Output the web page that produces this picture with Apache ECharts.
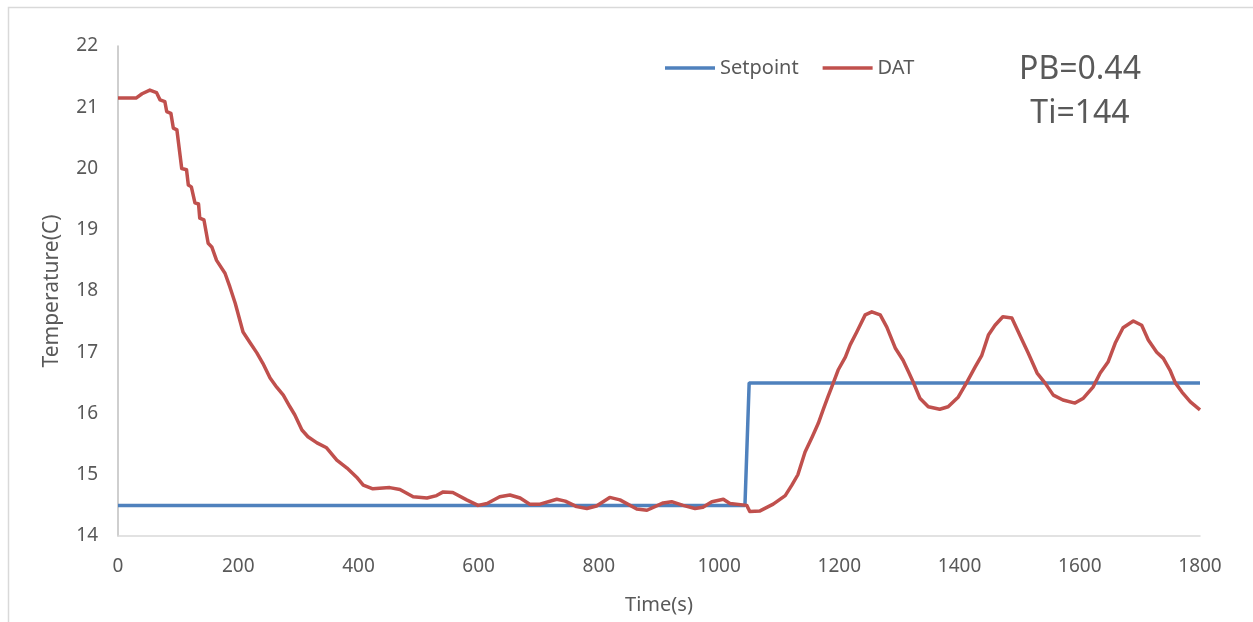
<!DOCTYPE html>
<html>
<head>
<meta charset="utf-8">
<script src="https://cdn.jsdelivr.net/npm/echarts@6/dist/echarts.min.js"></script>
<style>
  html, body { margin: 0; padding: 0; background: #ffffff; }
  #chart { width: 1253px; height: 622px; }
</style>
</head>
<body>
<div id="chart"></div>
<script>
// Time axis ticks (s) and temperature ticks (C)
const xTicks = [0, 200, 400, 600, 800, 1000, 1200, 1400, 1600, 1800];
const yTicks = [14, 15, 16, 17, 18, 19, 20, 21, 22];

// Setpoint: 14.5 C, stepped up to 16.5 C around t = 1045 s
const setpointTime = [0, 1043, 1050, 1800];
const setpointTemp = [14.5, 14.5, 16.5, 16.5];

// Discharge air temperature (DAT) samples
const datTime = [
  0, 30, 40, 53, 64, 70, 78, 81, 88, 92, 98, 106, 114, 117, 122, 128, 134, 136, 143, 150, 156,
  164, 178, 186, 195, 208, 220, 231, 241, 253, 264, 275, 286, 294, 306, 316, 331, 347, 364, 381,
  397, 408, 424, 452, 469, 491, 514, 530, 541, 557, 580, 599, 614, 635, 652, 669, 685, 702, 730,
  744, 763, 780, 796, 818, 835, 863, 880, 907, 921, 940, 960, 973, 988, 1007, 1018, 1046, 1051,
  1068, 1090, 1110, 1121, 1131, 1143, 1155, 1165, 1173, 1181, 1190, 1198, 1210, 1218, 1229, 1243,
  1254, 1268, 1279, 1293, 1306, 1315, 1323, 1334, 1348, 1367, 1381, 1398, 1412, 1426, 1437, 1448,
  1459, 1472, 1487, 1504, 1514, 1529, 1542, 1556, 1572, 1592, 1606, 1622, 1634, 1647, 1659, 1672,
  1689, 1703, 1714, 1728, 1739, 1750, 1759, 1770, 1784, 1800
];
const datTemp = [
  21.15, 21.15, 21.22, 21.28, 21.24, 21.12, 21.09, 20.93, 20.90, 20.66, 20.63, 20.00, 19.98, 19.73,
  19.70, 19.44, 19.42, 19.19, 19.16, 18.78, 18.72,
  18.50, 18.29, 18.07, 17.80, 17.33, 17.15, 16.99, 16.82, 16.58, 16.43, 16.30, 16.11, 15.98, 15.73,
  15.62, 15.52, 15.44, 15.24, 15.11,
  14.96, 14.83, 14.77, 14.79, 14.76, 14.64, 14.62, 14.66, 14.72, 14.71, 14.59, 14.50, 14.53, 14.64,
  14.67, 14.62, 14.52, 14.52, 14.60,
  14.57, 14.48, 14.45, 14.49, 14.63, 14.59, 14.44, 14.42, 14.54, 14.56, 14.50, 14.45, 14.47, 14.56,
  14.60, 14.53, 14.50, 14.40,
  14.41, 14.52, 14.66, 14.83, 15.00, 15.37, 15.62, 15.84, 16.06, 16.27, 16.50, 16.71, 16.92, 17.12,
  17.33, 17.61,
  17.66, 17.61, 17.41, 17.07, 16.87, 16.68, 16.51, 16.25, 16.11, 16.07, 16.11, 16.27, 16.51, 16.76,
  16.95, 17.28,
  17.44, 17.58, 17.56, 17.20, 16.99, 16.66, 16.50, 16.30, 16.22, 16.17, 16.25, 16.43, 16.66, 16.84,
  17.15, 17.40,
  17.51, 17.44, 17.20, 17.00, 16.90, 16.71, 16.50, 16.35, 16.19, 16.06
];

const seriesNames = ['Setpoint', 'DAT'];
const seriesColors = ['#4F81BD', '#C0504D'];
const annotations = ['PB=0.44', 'Ti=144'];

const pairs = (xs, ys) => xs.map((x, i) => [x, ys[i]]);

const font = '"Noto Sans", "Open Sans", sans-serif';
const textColor = '#595959';

const chart = echarts.init(document.getElementById('chart'), null, { renderer: 'canvas' });

chart.setOption({
  backgroundColor: '#ffffff',
  animation: false,
  textStyle: { fontFamily: font },
  graphic: [
    {
      type: 'rect',
      left: 6, top: 5,
      shape: { width: 1270, height: 640 },
      style: { fill: 'none', stroke: '#d9d9d9', lineWidth: 1.5 },
      z: -1
    },
    {
      type: 'text',
      x: 1080, y: 70,
      style: {
        text: annotations[0], fill: textColor, font: '32px ' + font,
        align: 'center', verticalAlign: 'middle'
      }
    },
    {
      type: 'text',
      x: 1080, y: 114,
      style: {
        text: annotations[1], fill: textColor, font: '32px ' + font,
        align: 'center', verticalAlign: 'middle'
      }
    }
  ],
  legend: {
    data: seriesNames,
    left: 660, top: 53,
    icon: 'rect',
    itemWidth: 50, itemHeight: 3.5,
    itemGap: 24,
    textStyle: { color: textColor, fontSize: 20, fontFamily: font }
  },
  grid: { left: 118, right: 53, top: 46, bottom: 86, containLabel: false },
  xAxis: {
    type: 'value',
    min: xTicks[0], max: xTicks[xTicks.length - 1], interval: xTicks[1] - xTicks[0],
    name: 'Time(s)', nameLocation: 'middle', nameGap: 59,
    nameTextStyle: { color: textColor, fontSize: 20, fontFamily: font },
    axisLine: { show: true, lineStyle: { color: '#d9d9d9', width: 1.5 } },
    axisTick: { show: false },
    splitLine: { show: false },
    axisLabel: {
      color: textColor, fontSize: 19, margin: 21, fontFamily: font,
      formatter: (v) => String(v)
    }
  },
  yAxis: {
    type: 'value',
    min: yTicks[0], max: yTicks[yTicks.length - 1], interval: yTicks[1] - yTicks[0],
    name: 'Temperature(C)', nameLocation: 'middle', nameGap: 55,
    nameTextStyle: { color: textColor, fontSize: 21, fontFamily: font },
    axisLine: { show: true, lineStyle: { color: '#bfbfbf', width: 1.5 } },
    axisTick: { show: false },
    splitLine: { show: false },
    axisLabel: {
      color: textColor, fontSize: 19, margin: 20, fontFamily: font,
      formatter: (v) => String(v)
    }
  },
  series: [
    {
      name: seriesNames[0], type: 'line', showSymbol: false, symbol: 'none',
      data: pairs(setpointTime, setpointTemp),
      lineStyle: { color: seriesColors[0], width: 3.5 },
      itemStyle: { color: seriesColors[0] }
    },
    {
      name: seriesNames[1], type: 'line', showSymbol: false, symbol: 'none',
      data: pairs(datTime, datTemp),
      lineStyle: { color: seriesColors[1], width: 3.5, join: 'round' },
      itemStyle: { color: seriesColors[1] }
    }
  ]
});
</script>
</body>
</html>
